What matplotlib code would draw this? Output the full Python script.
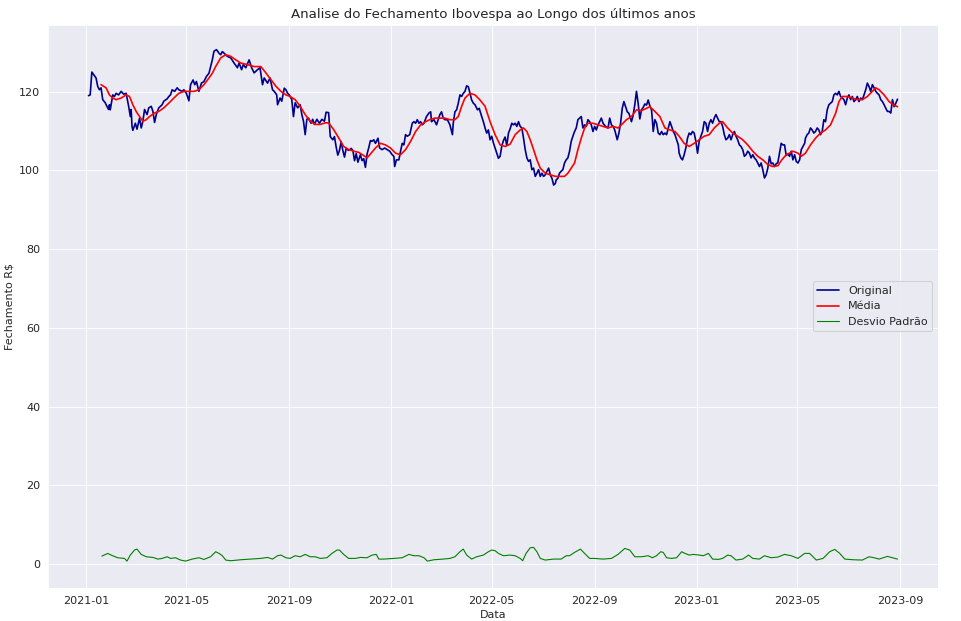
import matplotlib
matplotlib.use('Agg')
import matplotlib.pyplot as plt
import seaborn as sns
import pandas as pd

# dias contados a partir de 2021-01-01
inicio = pd.Timestamp('2021-01-01')

dias_original = [
    3, 5, 7, 9, 12, 14, 16, 18, 20, 23, 25, 27, 28, 29, 32, 34, 36, 39, 42, 45,
    48, 51, 53, 54, 55, 56, 59, 61, 64, 66, 68, 70, 73, 75, 78, 80, 82, 84, 87, 91,
    93, 97, 99, 101, 103, 106, 109, 111, 115, 117, 120, 123, 125, 128, 130, 132, 135, 138, 141, 144,
    147, 149, 151, 153, 156, 159, 161, 163, 166, 169, 173, 177, 181, 183, 186, 188, 191, 195, 198, 201,
    205, 208, 211, 213, 217, 220, 223, 225, 228, 229, 232, 234, 237, 239, 241, 243, 246, 248, 250, 253,
    256, 258, 260, 262, 264, 266, 269, 271, 273, 276, 279, 282, 285, 287, 290, 292, 295, 297, 299, 301,
    303, 305, 307, 309, 311, 314, 317, 319, 321, 323, 325, 328, 330, 332, 334, 336, 338, 340, 342, 344,
    346, 349, 351, 354, 357, 360, 363, 366, 368, 369, 371, 374, 376, 378, 380, 382, 384, 387, 390, 392,
    394, 396, 398, 400, 402, 404, 407, 410, 412, 413, 416, 419, 421, 423, 425, 427, 429, 432, 435, 436,
    438, 439, 441, 443, 445, 447, 449, 451, 453, 455, 457, 459, 461, 463, 465, 468, 470, 473, 475, 477,
    479, 481, 483, 485, 487, 489, 491, 493, 495, 497, 499, 501, 503, 505, 507, 509, 511, 513, 515, 517,
    519, 521, 523, 525, 527, 529, 531, 533, 535, 537, 539, 541, 543, 545, 547, 549, 551, 553, 555, 557,
    559, 561, 562, 564, 566, 568, 570, 572, 574, 576, 578, 580, 582, 584, 586, 588, 590, 592, 594, 596,
    598, 600, 602, 604, 606, 608, 610, 612, 614, 616, 618, 621, 624, 626, 628, 630, 632, 635, 637, 639,
    641, 643, 645, 647, 649, 652, 654, 656, 658, 660, 662, 664, 666, 668, 670, 672, 674, 676, 677, 678,
    680, 682, 684, 686, 688, 690, 692, 694, 696, 698, 700, 702, 704, 706, 708, 709, 711, 713, 715, 717,
    719, 721, 723, 725, 727, 729, 731, 733, 735, 737, 739, 741, 743, 745, 747, 749, 751, 753, 755, 757,
    759, 761, 763, 765, 767, 769, 771, 773, 775, 777, 779, 781, 783, 785, 787, 789, 791, 793, 795, 797,
    799, 801, 803, 805, 807, 809, 811, 813, 815, 817, 819, 821, 823, 825, 827, 829, 831, 833, 835, 837,
    839, 841, 843, 845, 847, 849, 851, 853, 855, 857, 859, 860, 862, 864, 866, 868, 870, 872, 874, 876,
    878, 880, 882, 884, 886, 888, 890, 892, 894, 896, 898, 900, 902, 904, 906, 908, 910, 912, 914, 916,
    918, 920, 922, 924, 926, 928, 930, 932, 934, 936, 938, 940, 942, 944, 946, 948, 950, 952, 954, 956,
    958, 960, 962, 964, 966, 968, 970,
]
fechamento = [
    119.0, 119.2, 125.0, 124.4, 123.5, 121.4, 120.5, 121.0, 118.0, 117.2, 116.3, 115.5, 116.7, 115.4, 119.2, 118.8, 119.6, 119.2, 120.1, 119.4,
    119.6, 116.3, 113.7, 115.5, 111.2, 110.2, 112.0, 110.5, 113.3, 110.8, 112.5, 115.5, 114.2, 115.9, 116.3, 115.0, 112.2, 114.2, 115.9, 116.7,
    117.6, 118.2, 118.8, 119.2, 120.5, 120.1, 121.0, 120.5, 120.1, 120.5, 119.6, 117.7, 121.8, 123.0, 121.8, 122.6, 120.1, 122.2, 122.6, 123.9,
    124.7, 126.4, 128.1, 130.3, 130.7, 129.8, 129.4, 130.2, 129.6, 129.0, 128.6, 127.3, 126.1, 127.3, 125.6, 126.9, 126.1, 128.1, 126.1, 124.8,
    125.6, 126.1, 121.8, 123.5, 122.2, 123.5, 120.5, 120.1, 119.2, 116.7, 118.4, 117.6, 120.9, 120.5, 119.6, 119.2, 118.0, 113.7, 117.2, 115.9,
    116.7, 114.2, 112.5, 109.1, 113.0, 113.3, 112.0, 113.0, 111.7, 113.0, 112.0, 113.0, 112.5, 114.8, 114.7, 108.6, 107.8, 108.6, 106.0, 103.9,
    105.1, 107.3, 105.1, 103.4, 105.6, 105.1, 105.6, 105.1, 102.5, 104.3, 102.1, 104.0, 102.5, 103.0, 100.8, 104.2, 105.8, 107.6, 107.4, 107.8,
    106.9, 108.2, 105.7, 105.3, 105.7, 105.3, 104.9, 104.0, 103.6, 101.0, 102.7, 102.7, 104.9, 106.9, 106.5, 109.1, 108.7, 109.1, 112.0, 112.4,
    112.0, 112.9, 112.0, 112.4, 111.6, 112.0, 113.7, 114.6, 114.9, 112.4, 112.9, 111.6, 112.9, 114.2, 114.9, 113.3, 112.9, 112.9, 111.6, 110.8,
    109.1, 112.0, 114.9, 115.4, 117.1, 119.2, 118.8, 119.6, 120.1, 121.5, 121.3, 119.6, 117.9, 117.1, 116.7, 115.4, 115.8, 113.7, 112.4, 110.8,
    109.5, 110.3, 107.8, 108.7, 107.0, 105.7, 104.4, 103.1, 103.6, 106.2, 107.6, 108.5, 106.3, 109.5, 110.6, 112.0, 111.6, 112.0, 111.2, 112.4,
    111.2, 110.8, 108.2, 105.3, 103.2, 102.3, 102.7, 100.2, 100.6, 98.5, 99.3, 100.2, 98.5, 99.3, 98.5, 98.9, 99.8, 100.6, 98.9, 98.0,
    96.3, 96.7, 97.6, 98.0, 99.3, 99.8, 100.2, 101.9, 102.7, 103.2, 104.9, 107.4, 108.7, 109.9, 110.8, 112.9, 113.3, 113.7, 110.8, 111.6,
    111.2, 112.9, 112.4, 111.6, 109.9, 111.2, 110.3, 111.6, 112.4, 113.3, 112.0, 111.2, 110.8, 113.3, 111.6, 111.2, 110.3, 107.8, 109.5, 112.0,
    115.8, 117.5, 116.2, 114.9, 114.5, 112.4, 114.0, 116.7, 120.1, 117.1, 113.1, 115.4, 116.0, 116.9, 116.6, 117.9, 116.4, 115.4, 112.9, 109.9,
    112.9, 112.0, 109.5, 109.1, 109.9, 109.1, 109.5, 109.1, 110.8, 112.4, 111.2, 109.9, 109.1, 107.8, 106.5, 104.4, 103.2, 102.7, 104.0, 105.7,
    108.2, 109.5, 109.1, 109.9, 109.5, 107.4, 104.4, 107.4, 108.7, 109.9, 112.4, 112.0, 109.9, 112.0, 112.9, 112.0, 113.3, 114.2, 113.3, 112.4,
    112.4, 111.2, 109.1, 107.8, 108.2, 109.1, 107.8, 109.1, 109.9, 108.7, 107.8, 106.5, 106.1, 105.3, 103.6, 104.0, 104.9, 104.4, 103.2, 104.0,
    103.2, 102.7, 101.9, 101.0, 101.9, 100.2, 98.1, 98.9, 100.6, 103.6, 101.7, 101.9, 101.0, 101.7, 102.0, 104.5, 106.9, 106.5, 106.5, 103.8,
    104.2, 103.6, 104.9, 102.7, 104.0, 102.3, 101.9, 102.7, 105.3, 106.1, 106.9, 108.2, 109.1, 109.5, 110.8, 110.3, 109.5, 109.9, 110.8, 110.3,
    109.1, 109.9, 112.9, 112.4, 115.4, 116.7, 117.1, 117.5, 119.2, 119.6, 119.2, 120.1, 118.8, 118.4, 118.0, 116.7, 118.4, 119.2, 118.0, 118.8,
    117.5, 118.0, 118.8, 117.5, 118.4, 118.0, 119.2, 120.5, 122.2, 121.3, 120.1, 121.8, 121.0, 120.1, 119.6, 119.2, 118.0, 117.5, 116.7, 115.8,
    115.0, 115.0, 114.6, 118.0, 116.2, 117.1, 118.1,
]

dias_media = [
    18, 24, 28, 32, 36, 42, 48, 52, 56, 60, 64, 68, 72, 76, 82, 87, 93, 99, 105, 111,
    117, 123, 129, 135, 141, 147, 151, 155, 161, 167, 173, 179, 185, 193, 201, 209, 215, 221, 227, 233,
    239, 244, 250, 256, 262, 268, 274, 280, 286, 290, 296, 302, 308, 314, 320, 326, 332, 336, 340, 346,
    352, 358, 364, 370, 376, 382, 388, 394, 400, 406, 412, 417, 423, 429, 435, 441, 445, 449, 453, 459,
    465, 471, 477, 483, 489, 495, 501, 507, 513, 519, 523, 527, 531, 535, 539, 543, 549, 555, 561, 566,
    572, 576, 580, 584, 588, 592, 596, 600, 606, 612, 618, 624, 630, 636, 640, 646, 652, 658, 664, 670,
    674, 680, 686, 692, 698, 704, 709, 715, 721, 727, 733, 739, 745, 751, 757, 761, 767, 773, 779, 785,
    791, 797, 803, 809, 815, 821, 827, 831, 837, 841, 845, 851, 855, 860, 866, 872, 878, 884, 890, 896,
    900, 904, 910, 916, 922, 928, 934, 940, 944, 948, 954, 960, 965, 970,
]
media = [
    121.8, 121.0, 119.2, 118.4, 118.0, 118.4, 119.2, 118.8, 116.7, 115.0, 113.7, 112.5, 112.9, 113.7, 114.6, 115.0, 115.9, 117.1, 118.4, 119.6,
    120.1, 120.1, 120.1, 120.5, 121.8, 123.5, 124.7, 126.4, 128.6, 129.4, 129.0, 128.1, 127.3, 126.9, 126.4, 126.4, 124.8, 123.1, 121.4, 120.1,
    119.2, 118.8, 118.0, 116.3, 114.2, 112.5, 111.7, 111.7, 112.1, 112.1, 110.4, 108.3, 106.1, 105.3, 104.9, 104.6, 103.8, 103.2, 104.2, 105.7,
    106.9, 106.5, 105.7, 104.4, 104.0, 105.3, 107.4, 109.9, 111.6, 112.4, 113.0, 113.3, 113.3, 113.3, 112.9, 112.9, 113.7, 116.3, 118.4, 119.6,
    119.2, 117.9, 116.3, 112.4, 109.1, 106.5, 106.1, 106.7, 109.1, 110.3, 110.8, 109.9, 107.8, 105.3, 102.7, 100.6, 99.3, 98.9, 98.5, 98.5,
    98.5, 99.3, 100.6, 101.9, 105.3, 108.2, 110.8, 112.0, 112.0, 111.6, 111.2, 110.8, 111.2, 110.8, 111.6, 112.9, 113.7, 115.4, 115.2, 115.8,
    116.2, 115.0, 113.7, 110.8, 110.3, 109.9, 108.7, 106.9, 106.1, 106.9, 107.8, 108.7, 109.1, 110.8, 112.0, 112.4, 110.8, 109.5, 108.7, 107.8,
    106.5, 104.9, 103.6, 102.7, 101.5, 101.0, 101.2, 102.5, 104.0, 104.4, 104.9, 104.4, 103.6, 104.4, 106.5, 108.2, 109.5, 110.3, 111.6, 114.5,
    117.5, 118.8, 118.8, 118.4, 118.0, 118.0, 118.8, 120.1, 121.0, 120.5, 119.2, 117.5, 116.7, 116.2,
]

dias_desvio = [
    19, 26, 32, 38, 46, 49, 53, 58, 61, 66, 72, 80, 86, 91, 97, 101, 107, 113, 119, 127,
    135, 141, 149, 155, 159, 163, 167, 173, 185, 197, 209, 217, 223, 229, 233, 239, 244, 250, 256, 262,
    268, 274, 280, 288, 294, 300, 303, 308, 314, 322, 328, 336, 342, 347, 350, 356, 368, 378, 386, 392,
    398, 404, 408, 416, 427, 435, 441, 447, 451, 455, 461, 467, 475, 481, 485, 489, 493, 499, 507, 513,
    519, 522, 526, 531, 535, 539, 543, 549, 559, 568, 574, 578, 584, 591, 596, 602, 608, 618, 628, 636,
    644, 650, 656, 664, 672, 677, 682, 687, 690, 694, 700, 706, 712, 716, 721, 726, 733, 738, 744, 749,
    756, 761, 767, 771, 777, 785, 792, 797, 805, 811, 819, 827, 835, 843, 851, 859, 865, 873, 881, 889,
    895, 901, 907, 917, 928, 936, 942, 948, 958, 964, 970,
]
desvio = [
    2.03, 2.7, 2.1, 1.6, 1.44, 0.76, 2.29, 3.56, 3.81, 2.46, 1.86, 1.69, 1.27, 1.44, 1.86, 1.44, 1.61, 1.02, 0.76, 1.27,
    1.61, 1.19, 1.86, 3.14, 2.71, 2.12, 1.02, 0.85, 1.10, 1.27, 1.44, 1.69, 1.27, 2.12, 2.29, 1.61, 1.44, 2.12, 1.86, 2.46,
    1.86, 1.86, 1.44, 1.61, 2.71, 3.56, 3.56, 2.46, 1.44, 1.44, 1.69, 1.61, 2.29, 2.46, 1.27, 1.27, 1.44, 1.61, 2.46, 2.12,
    2.12, 1.61, 0.76, 1.10, 1.27, 1.44, 1.86, 3.14, 3.81, 2.29, 1.27, 1.86, 2.29, 3.14, 3.56, 3.4, 2.71, 2.12, 2.29, 2.12,
    1.44, 0.85, 2.71, 4.15, 4.24, 3.14, 1.44, 1.02, 1.27, 1.27, 2.12, 2.12, 2.97, 3.81, 2.71, 1.44, 1.44, 1.27, 1.44, 2.46,
    3.98, 3.56, 1.86, 1.86, 2.12, 1.61, 2.12, 3.14, 2.97, 1.61, 1.44, 1.61, 3.14, 2.71, 2.29, 2.46, 2.29, 2.12, 2.71, 1.27,
    1.19, 1.44, 2.29, 2.12, 1.02, 1.27, 2.29, 1.44, 1.27, 2.12, 1.61, 1.78, 2.46, 2.12, 1.44, 2.71, 2.71, 1.02, 1.44, 3.14,
    3.73, 2.71, 1.27, 1.10, 1.02, 1.86, 1.61, 1.27, 1.95, 1.61, 1.27,
]

datas_original = inicio + pd.to_timedelta(dias_original, unit='D')
datas_media = inicio + pd.to_timedelta(dias_media, unit='D')
datas_desvio = inicio + pd.to_timedelta(dias_desvio, unit='D')

sns.set_style('darkgrid')

fig = plt.figure(figsize=(961 / 80, 621 / 80), dpi=80)
fig.subplots_adjust(left=0.05, right=0.976, top=0.96, bottom=0.053)
ax = fig.add_subplot(111)

ax.plot(datas_original, fechamento, color='darkblue', linewidth=1.5, label='Original')
ax.plot(datas_media, media, color='red', linewidth=1.5, label='Média')
ax.plot(datas_desvio, desvio, color='green', linewidth=1.0, label='Desvio Padrão')

ax.set_title('Analise do Fechamento Ibovespa ao Longo dos últimos anos')
ax.set_xlabel('Data')
ax.set_ylabel('Fechamento R$')
ax.set_ylim(-6.1, 137)
ax.legend(loc='center right')

fig.savefig('out.png', dpi=80)
